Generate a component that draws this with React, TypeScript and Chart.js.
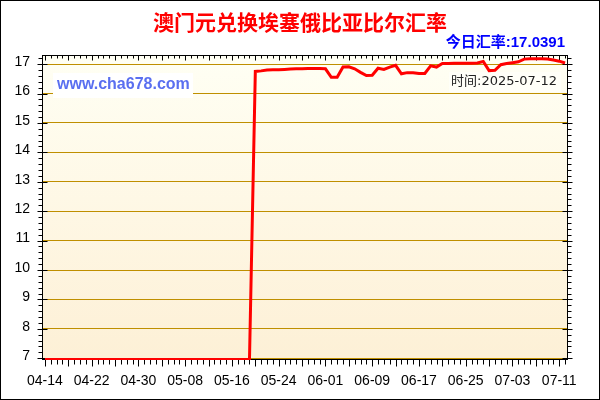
import { useEffect, useRef } from 'react';
import { Chart, registerables } from 'chart.js';

Chart.register(...registerables);

const dates = [
  '04-14', '04-15', '04-16', '04-17', '04-18', '04-19', '04-20', '04-21', '04-22', '04-23',
  '04-24', '04-25', '04-26', '04-27', '04-28', '04-29', '04-30',
  '05-01', '05-02', '05-03', '05-04', '05-05', '05-06', '05-07', '05-08', '05-09', '05-10',
  '05-11', '05-12', '05-13', '05-14', '05-15', '05-16', '05-17', '05-18', '05-19', '05-20',
  '05-21', '05-22', '05-23', '05-24', '05-25', '05-26', '05-27', '05-28', '05-29', '05-30', '05-31',
  '06-01', '06-02', '06-03', '06-04', '06-05', '06-06', '06-07', '06-08', '06-09', '06-10',
  '06-11', '06-12', '06-13', '06-14', '06-15', '06-16', '06-17', '06-18', '06-19', '06-20',
  '06-21', '06-22', '06-23', '06-24', '06-25', '06-26', '06-27', '06-28', '06-29', '06-30',
  '07-01', '07-02', '07-03', '07-04', '07-05', '07-06', '07-07', '07-08', '07-09', '07-10',
  '07-11', '07-12',
];

const rates = [
  6.96, 6.96, 6.96, 6.96, 6.96, 6.96, 6.96, 6.96, 6.96, 6.96,
  6.96, 6.96, 6.96, 6.96, 6.96, 6.96, 6.96, 6.96, 6.96, 6.96,
  6.96, 6.96, 6.96, 6.96, 6.96, 6.96, 6.96, 6.96, 6.96, 6.96,
  6.96, 6.96, 6.96, 6.96, 6.96, 6.96,
  16.75, 16.77, 16.80, 16.81, 16.81, 16.82, 16.83, 16.84, 16.84, 16.85,
  16.85, 16.85, 16.84, 16.55, 16.55, 16.90, 16.91, 16.84, 16.72, 16.61,
  16.62, 16.86, 16.82, 16.90, 16.96, 16.67, 16.71, 16.71, 16.68, 16.68,
  16.94, 16.90, 17.02, 17.02, 17.03, 17.03, 17.03, 17.03, 17.04, 17.09,
  16.78, 16.79, 16.98, 17.02, 17.05, 17.08, 17.17, 17.18, 17.18, 17.18,
  17.17, 17.14, 17.10, 17.04,
];

const yTickValues = [7, 8, 9, 10, 11, 12, 13, 14, 15, 16, 17];
const labelEvery = 8;
const titleText = '澳门元兑换埃塞俄比亚比尔汇率';
const todayText = '今日汇率:17.0391';
const dateText = '时间:2025-07-12';
const siteText = 'www.cha678.com';

const decorPlugin = {
  id: 'decor',
  beforeDraw(chart: any) {
    const { ctx, chartArea: a, width, height } = chart;
    ctx.save();
    ctx.fillStyle = '#ffffff';
    ctx.fillRect(0, 0, width, height);
    const g = ctx.createLinearGradient(0, a.top, 0, a.bottom);
    g.addColorStop(0, '#fffff4');
    g.addColorStop(1, '#fdf0d6');
    ctx.fillStyle = g;
    ctx.fillRect(a.left, a.top, a.right - a.left, a.bottom - a.top);
    ctx.strokeStyle = '#000';
    ctx.lineWidth = 1;
    ctx.strokeRect(0.5, 0.5, width - 1, height - 1);
    ctx.restore();
  },
  beforeDatasetsDraw(chart: any) {
    const { ctx, chartArea: a } = chart;
    const xs = chart.scales.x;
    const ys = chart.scales.y;
    const L = Math.round(a.left) + 0.5;
    const R = Math.round(a.right) - 0.5;
    const T = Math.round(a.top) + 0.5;
    const B = Math.round(a.bottom) - 0.5;
    ctx.save();
    ctx.strokeStyle = '#000';
    ctx.lineWidth = 1;
    ctx.beginPath();
    for (let i = 0; i < dates.length; i++) {
      const x = Math.round(xs.getPixelForValue(i)) + 0.5;
      const major = i % 4 === 0;
      ctx.moveTo(x, T);
      ctx.lineTo(x, T + (major ? 5 : 3));
      ctx.moveTo(x, B);
      ctx.lineTo(x, B + (major ? 7 : 5));
    }
    for (let k = 0; k <= 60; k++) {
      const v = 7 + k * 0.2;
      if (v > ys.max) break;
      const y = Math.round(ys.getPixelForValue(v)) + 0.5;
      const major = k % 5 === 0;
      ctx.moveTo(L - (major ? 5 : 4), y);
      ctx.lineTo(L + (major ? 5 : 0), y);
      ctx.moveTo(R - (major ? 5 : 0), y);
      ctx.lineTo(R + (major ? 5 : 4), y);
    }
    ctx.stroke();
    ctx.strokeRect(L, T, R - L, B - T);

    ctx.fillStyle = '#ffffff';
    ctx.fillRect(53, 73, 140, 25);
    ctx.fillStyle = '#5a6ff0';
    ctx.font = 'bold 16px "Liberation Sans", Arial, sans-serif';
    ctx.textAlign = 'left';
    ctx.textBaseline = 'middle';
    ctx.fillText(siteText, 57, 85);

    ctx.fillStyle = '#fffff8';
    ctx.fillRect(449, 72, 112, 20);
    ctx.fillStyle = '#222';
    ctx.font = '13px "DejaVu Sans", "Noto Sans CJK SC", sans-serif';
    ctx.textAlign = 'right';
    ctx.fillText(dateText, 557, 82);

    ctx.fillStyle = '#ff0000';
    ctx.font = 'bold 21px "Noto Sans CJK SC", sans-serif';
    ctx.textAlign = 'center';
    ctx.fillText(titleText, 300, 22);

    ctx.fillStyle = '#0000ff';
    ctx.font = 'bold 15px "Liberation Sans", "Noto Sans CJK SC", sans-serif';
    ctx.textAlign = 'right';
    ctx.fillText(todayText, 565, 43);
    ctx.restore();
  },
};

export default function App() {
  const ref = useRef<HTMLCanvasElement | null>(null);

  useEffect(() => {
    document.body.style.margin = '0';
    const canvas = ref.current;
    if (!canvas) return;
    const chart = new Chart(canvas, {
      type: 'line',
      data: {
        labels: dates,
        datasets: [
          {
            data: rates,
            borderColor: '#ff0000',
            backgroundColor: '#ff0000',
            borderWidth: 3,
            pointRadius: 0,
            tension: 0,
            fill: false,
          },
        ],
      },
      options: {
        animation: false,
        responsive: false,
        devicePixelRatio: 1,
        layout: { padding: { top: 55, right: 32, left: 0, bottom: 0 } },
        plugins: {
          legend: { display: false },
          tooltip: { enabled: false },
          title: { display: false },
        },
        scales: {
          x: {
            type: 'category',
            offset: true,
            afterFit: (s: any) => {
              s.height = 40;
            },
            grid: { display: false, drawTicks: false },
            border: { display: false },
            ticks: {
              autoSkip: false,
              maxRotation: 0,
              minRotation: 0,
              padding: 13,
              color: '#000',
              font: { size: 14, family: '"Liberation Sans", Arial, sans-serif' },
              callback: (_v: any, i: number) => (i % labelEvery === 0 ? dates[i] : ''),
            },
          },
          y: {
            min: 6.94,
            max: 17.31,
            afterBuildTicks: (s: any) => {
              s.ticks = yTickValues.map((v) => ({ value: v }));
            },
            afterFit: (s: any) => {
              s.width = 42;
            },
            grid: { color: '#bf8f00', lineWidth: 1, drawTicks: false },
            border: { display: false },
            ticks: {
              padding: 12,
              labelOffset: -2,
              color: '#000',
              font: { size: 14, family: '"Liberation Sans", Arial, sans-serif' },
            },
          },
        },
      },
      plugins: [decorPlugin],
    });
    return () => chart.destroy();
  }, []);

  return <canvas ref={ref} width={600} height={400} style={{ display: 'block', width: 600, height: 400 }} />;
}
